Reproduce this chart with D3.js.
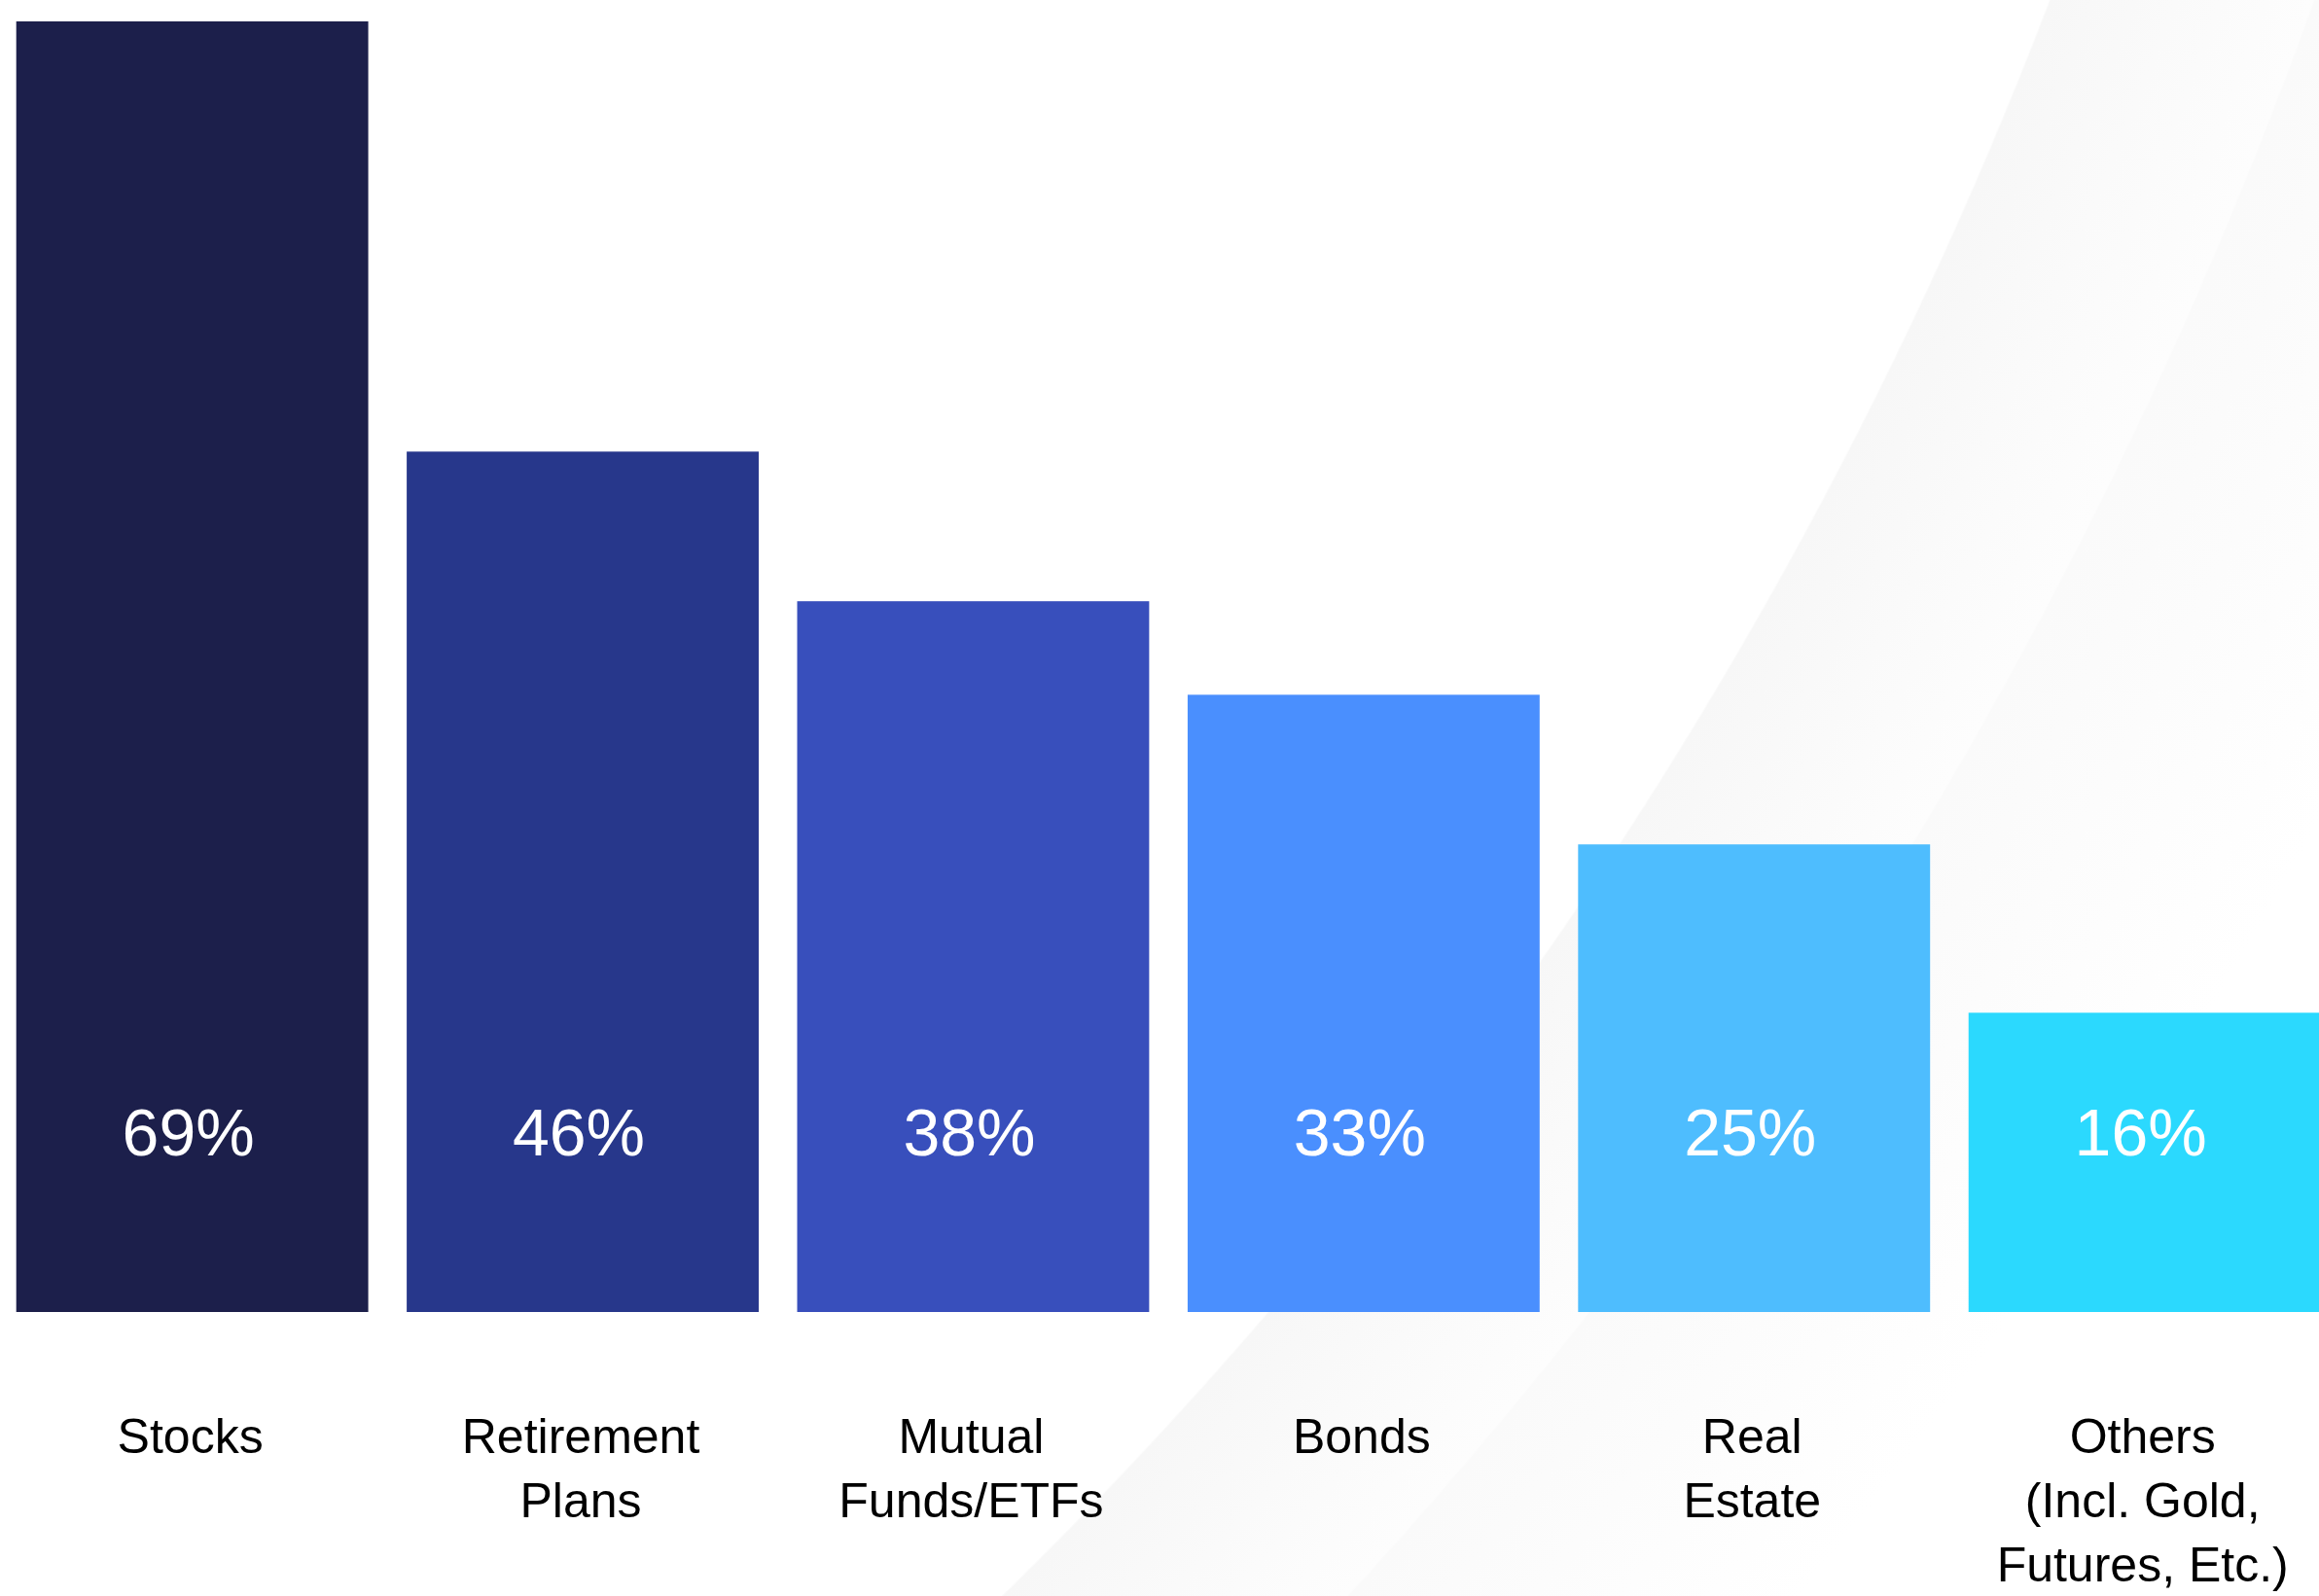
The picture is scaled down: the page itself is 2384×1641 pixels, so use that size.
<!DOCTYPE html>
<html>
<head>
<meta charset="utf-8">
<script src="https://cdn.jsdelivr.net/npm/d3@7"></script>
<style>
  html, body { margin: 0; padding: 0; background: #ffffff; }
  svg { display: block; }
</style>
</head>
<body>
<script>
const categories = ["Stocks", "Retirement Plans", "Mutual Funds/ETFs", "Bonds", "Real Estate", "Others (Incl. Gold, Futures, Etc.)"];
const labelLines = [["Stocks"], ["Retirement", "Plans"], ["Mutual", "Funds/ETFs"], ["Bonds"], ["Real", "Estate"], ["Others", "(Incl. Gold,", "Futures, Etc.)"]];
const values = [69, 46, 38, 33, 25, 16];
const colors = ["#1c1f4b", "#27378b", "#384fbc", "#4a8ffe", "#4ebdfe", "#2bd9fe"];

const W = 2384, H = 1641;
const svg = d3.select("body").append("svg").attr("width", W).attr("height", H);

// faint background arcs
const defs = svg.append("defs");
const cx = -2166, cy = -1631, r1 = 4575, r2 = 4830, R = 5400;
const grad = defs.append("radialGradient").attr("id", "bgArc")
  .attr("gradientUnits", "userSpaceOnUse")
  .attr("cx", cx).attr("cy", cy).attr("r", R).attr("fx", cx).attr("fy", cy);
[[0, "#ffffff"], [(r1 - 2) / R, "#ffffff"], [r1 / R, "#f7f7f7"], [(r1 + 120) / R, "#fafafa"], [(r2 - 2) / R, "#fdfdfd"], [r2 / R, "#fafafa"], [(r2 + 350) / R, "#ffffff"], [1, "#ffffff"]]
  .forEach(([o, c]) => grad.append("stop").attr("offset", o).attr("stop-color", c));
svg.append("rect").attr("width", W).attr("height", H).attr("fill", "url(#bgArc)");

const x = d3.scaleBand().domain(categories).range([16.7, 2385.6]).paddingInner(0.0985).paddingOuter(0);
const y = d3.scaleLinear().domain([0, 69]).range([1349, 22]);

svg.append("g").selectAll("rect").data(values).join("rect")
  .attr("x", (d, i) => x(categories[i]))
  .attr("y", d => y(d))
  .attr("width", x.bandwidth())
  .attr("height", d => y(0) - y(d))
  .attr("fill", (d, i) => colors[i]);

svg.append("g").selectAll("text").data(values).join("text")
  .attr("x", (d, i) => x(categories[i]) + x.bandwidth() / 2 - 4)
  .attr("y", 1188)
  .attr("text-anchor", "middle")
  .attr("font-family", "'Liberation Sans', Arial, sans-serif")
  .attr("font-size", 68)
  .attr("fill", "#ffffff")
  .text(d => d + "%");

const lab = svg.append("g").selectAll("text").data(labelLines).join("text")
  .attr("text-anchor", "middle")
  .attr("font-family", "'Liberation Sans', Arial, sans-serif")
  .attr("font-size", 50)
  .attr("fill", "#000000");
lab.each(function(lines, i) {
  const t = d3.select(this);
  lines.forEach((l, j) => {
    t.append("tspan")
      .attr("x", x(categories[i]) + x.bandwidth() / 2 - 2)
      .attr("y", 1494 + j * 66)
      .text(l);
  });
});
</script>
</body>
</html>
